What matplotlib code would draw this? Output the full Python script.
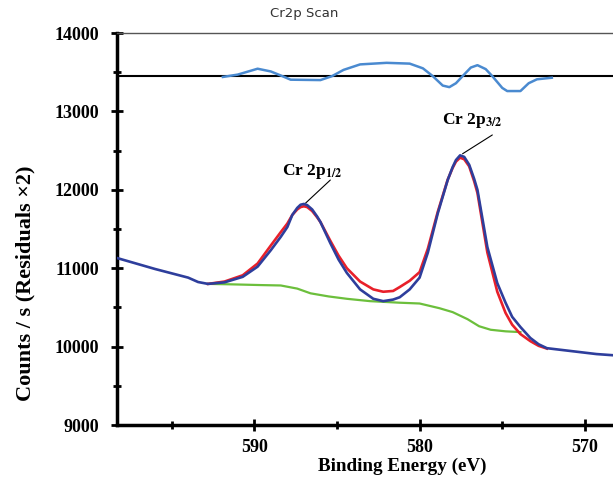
import numpy as np
import matplotlib
matplotlib.use("Agg")
import matplotlib.pyplot as plt
from matplotlib.ticker import MultipleLocator

plt.rcParams['font.family'] = ['Liberation Serif', 'DejaVu Serif']
plt.rcParams['mathtext.fontset'] = 'stix'

# measured spectrum (binding energy eV, counts/s)
be_data = [598.3, 596.0, 594.0, 593.4, 592.8, 591.8, 590.7, 589.8, 589.0, 588.4,
           588.0, 587.7, 587.4, 587.2, 587.0, 586.8, 586.5, 586.2, 586.0, 585.4,
           584.9, 584.4, 583.6, 582.8, 582.2, 581.6, 581.2, 580.6, 580.0, 579.5,
           578.9, 578.3, 578.0, 577.8, 577.55, 577.3, 577.0, 576.7, 576.5, 575.9,
           575.3, 574.8, 574.4, 573.9, 573.3, 572.8, 572.3, 571.5, 570.3, 569.3,
           568.3]
cts_data = [11130, 10990, 10880, 10824, 10800, 10820, 10890, 11020, 11230, 11400,
            11525, 11680, 11770, 11810, 11820, 11805, 11750, 11660, 11590, 11320,
            11110, 10940, 10730, 10610, 10580, 10600, 10630, 10730, 10880, 11200,
            11700, 12125, 12290, 12380, 12440, 12420, 12320, 12140, 12000, 11270,
            10810, 10560, 10380, 10250, 10110, 10030, 9980, 9960, 9930, 9905,
            9890]

# fit envelope
be_fit = [592.8, 591.8, 590.7, 589.8, 589.0, 588.4, 588.0, 587.7, 587.4, 587.2,
          587.0, 586.8, 586.5, 586.2, 586.0, 585.4, 584.9, 584.4, 583.6, 582.8,
          582.2, 581.6, 581.2, 580.6, 580.0, 579.5, 578.9, 578.3, 578.0, 577.8,
          577.55, 577.3, 577.0, 576.7, 576.5, 575.9, 575.3, 574.8, 574.4, 573.9,
          573.3, 572.8, 572.3]
cts_fit = [10800, 10830, 10910, 11060, 11290, 11460, 11570, 11680, 11750, 11780,
           11790, 11780, 11730, 11650, 11590, 11350, 11160, 11000, 10830, 10730,
           10700, 10710, 10760, 10840, 10950, 11250, 11720, 12130, 12280, 12360,
           12410, 12390, 12300, 12110, 11960, 11200, 10700, 10430, 10280, 10160,
           10070, 10010, 9975]

# background
be_bg = [592.8, 591.5, 589.6, 588.4, 587.4, 586.6, 585.5, 584.4, 583.0, 581.2,
         580.0, 578.8, 578.0, 577.1, 576.4, 575.7, 574.8, 573.9]
cts_bg = [10800, 10795, 10785, 10780, 10740, 10680, 10640, 10610, 10580, 10560,
          10550, 10490, 10440, 10350, 10260, 10215, 10195, 10185]

# residuals (x2), offset
res_offset = 13450
be_res = [591.9, 591.0, 589.8, 589.0, 588.3, 587.8, 586.0, 585.3, 584.6, 583.6,
          582.0, 580.6, 579.8, 579.2, 578.6, 578.2, 577.8, 577.4, 576.9, 576.5,
          576.0, 575.6, 575.0, 574.7, 573.9, 573.4, 572.9, 572.0]
cts_res = [13440, 13470, 13545, 13510, 13450, 13405, 13400, 13450, 13530, 13600,
           13620, 13610, 13550, 13450, 13330, 13310, 13360, 13450, 13560, 13590,
           13540, 13450, 13300, 13260, 13260, 13360, 13410, 13430]

fig = plt.figure(figsize=(6.13, 4.86), dpi=100)
ax = fig.add_axes([0.191, 0.1255, 0.809, 0.8065])

ax.axhline(res_offset, color='black', lw=1.5, zorder=1)
ax.plot(be_res, cts_res, color='#4A8AD0', lw=1.8, zorder=2)
ax.plot(be_bg, cts_bg, color='#6CBF3C', lw=1.6, zorder=2)
ax.plot(be_fit, cts_fit, color='#E8202A', lw=1.9, zorder=3)
ax.plot(be_data, cts_data, color='#2E3E9C', lw=1.9, zorder=4)

ax.set_xlim(598.3, 568.3)
ax.set_ylim(9000, 14000)
ax.xaxis.set_major_locator(MultipleLocator(10))
ax.xaxis.set_minor_locator(MultipleLocator(5))
ax.yaxis.set_major_locator(MultipleLocator(1000))
ax.yaxis.set_minor_locator(MultipleLocator(500))
ax.tick_params(which='both', direction='inout', width=2, color='black')
ax.tick_params(which='major', length=8, labelsize=13)
ax.tick_params(which='minor', length=6)
ax.tick_params(axis='x', which='major', pad=6)
ax.tick_params(axis='y', which='major', pad=9)
for lab in ax.get_xticklabels() + ax.get_yticklabels():
    lab.set_fontweight('bold')

ax.spines['left'].set_linewidth(2.5)
ax.spines['bottom'].set_linewidth(2.5)
ax.spines['top'].set_linewidth(1.0)
ax.spines['top'].set_color('#555555')
ax.spines['right'].set_visible(False)

# peak labels with leader lines
ax.text(586.5, 12230, r'Cr 2p$_{\mathbf{1/2}}$', ha='center', va='center',
        fontsize=12.5, fontweight='bold')
ax.annotate('', xy=(586.9, 11830), xytext=(585.4, 12125),
            arrowprops=dict(arrowstyle='-', color='black', lw=0.8,
                            shrinkA=0, shrinkB=0))
ax.text(576.8, 12890, r'Cr 2p$_{\mathbf{3/2}}$', ha='center', va='center',
        fontsize=12.5, fontweight='bold')
ax.annotate('', xy=(577.4, 12460), xytext=(575.6, 12700),
            arrowprops=dict(arrowstyle='-', color='black', lw=0.8,
                            shrinkA=0, shrinkB=0))

fig.text(0.656, 0.04, 'Binding Energy (eV)', ha='center', va='center',
         fontsize=13.8, fontweight='bold')
fig.text(0.042, 0.418, 'Counts / s (Residuals \u00d72)', ha='center', va='center',
         rotation=90, fontsize=16, fontweight='bold')
fig.text(0.497, 0.972, 'Cr2p Scan', ha='center', va='center', fontsize=9.5,
         family='DejaVu Sans', color='#333333')

fig.savefig('out.png', dpi=100)
